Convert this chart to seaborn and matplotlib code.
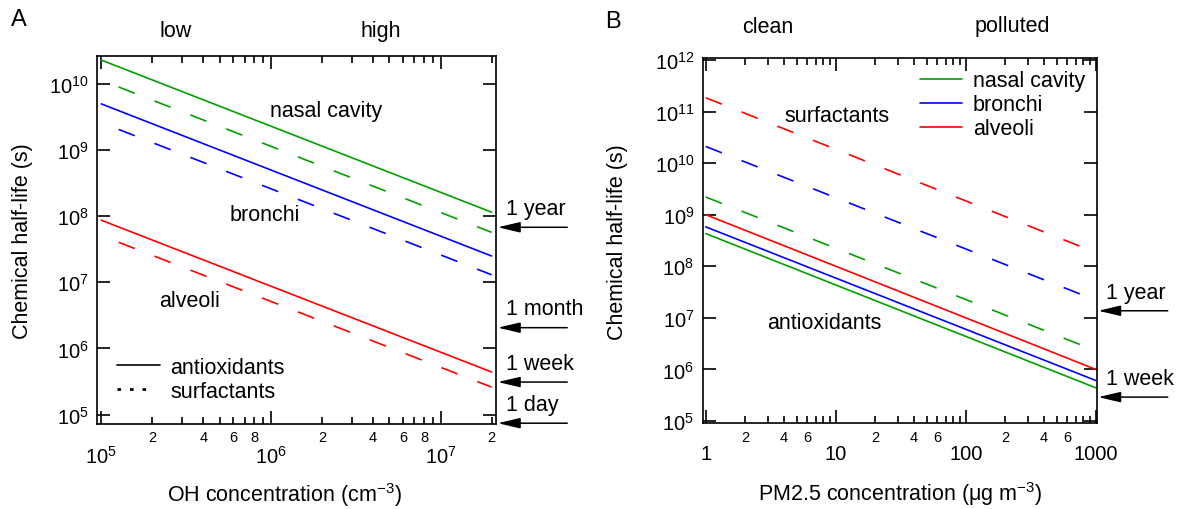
import numpy as np
import pandas as pd
import matplotlib
matplotlib.use("Agg")
import matplotlib.pyplot as plt
import matplotlib.ticker as mticker
import matplotlib.transforms as mtransforms
from matplotlib.lines import Line2D
import seaborn as sns

# --- data ---
regions = ["nasal cavity", "bronchi", "alveoli"]
chems = ["antioxidants", "surfactants"]

# panel A: half-life vs OH concentration (cm-3)
oh_conc = [1e5, 2e7]
oh_nasal_antiox = [2.3e10, 1.15e8]
oh_bronchi_antiox = [5.0e9, 2.5e7]
oh_alveoli_antiox = [8.7e7, 4.4e5]
oh_nasal_surf = [1.14e10, 5.7e7]
oh_bronchi_surf = [2.6e9, 1.3e7]
oh_alveoli_surf = [5.1e7, 2.6e5]
oh_marks = ["1 year", "1 month", "1 week", "1 day"]
oh_mark_vals = [6.8e7, 2.06e6, 3.1e5, 7.4e4]

# panel B: half-life vs PM2.5 concentration (ug m-3)
pm_conc = [1, 1000]
pm_nasal_antiox = [4.3e8, 4.4e5]
pm_bronchi_antiox = [5.8e8, 6.1e5]
pm_alveoli_antiox = [1.0e9, 1.0e6]
pm_nasal_surf = [2.2e9, 2.3e6]
pm_bronchi_surf = [2.1e10, 2.2e7]
pm_alveoli_surf = [1.85e11, 1.85e8]
pm_marks = ["1 year", "1 week"]
pm_mark_vals = [1.37e7, 2.9e5]


def to_long(x, antiox, surf):
    rows = []
    for reg, a, s in zip(regions, antiox, surf):
        for xi, ai, si in zip(x, a, s):
            rows.append((xi, ai, reg, "antioxidants"))
            rows.append((xi, si, reg, "surfactants"))
    return pd.DataFrame(rows, columns=["conc", "half_life", "region", "chem"])


df_oh = to_long(oh_conc, [oh_nasal_antiox, oh_bronchi_antiox, oh_alveoli_antiox],
                [oh_nasal_surf, oh_bronchi_surf, oh_alveoli_surf])
df_pm = to_long(pm_conc, [pm_nasal_antiox, pm_bronchi_antiox, pm_alveoli_antiox],
                [pm_nasal_surf, pm_bronchi_surf, pm_alveoli_surf])

# --- style ---
sns.set_style("ticks")
plt.rcParams["font.family"] = ["Liberation Sans", "DejaVu Sans"]
plt.rcParams["mathtext.fontset"] = "custom"
plt.rcParams["mathtext.rm"] = "Liberation Sans"
plt.rcParams["mathtext.it"] = "Liberation Sans:italic"
plt.rcParams["mathtext.bf"] = "Liberation Sans:bold"
plt.rcParams["lines.scale_dashes"] = False
plt.rcParams["axes.linewidth"] = 1.2
for key in ["text.color", "axes.labelcolor", "axes.edgecolor", "xtick.color", "ytick.color"]:
    plt.rcParams[key] = "black"

colors = {"nasal cavity": "#00a000", "bronchi": "#0000ff", "alveoli": "#ff0000"}
FS = 15.5
DASH = (12.5, 15.2)

fig = plt.figure(figsize=(11.86, 5.10), dpi=100)
axA = fig.add_axes([0.0822, 0.1667, 0.3362, 0.7222])
axB = fig.add_axes([0.5930, 0.1680, 0.3317, 0.7163])


def minor_fmt(keep):
    def f(v, pos):
        m = int(round(v / 10 ** np.floor(np.log10(v) + 1e-9)))
        return str(m) if m in keep else ""
    return mticker.FuncFormatter(f)


def log_ticks(lo, hi, subs):
    # tick positions inside the view only
    out = []
    for e in range(int(np.floor(np.log10(lo))), int(np.ceil(np.log10(hi))) + 1):
        for m in subs:
            v = m * 10.0 ** e
            if lo <= v <= hi:
                out.append(v)
    return out


def draw(ax, df, dash_offset, xlim, ylim):
    for reg in regions:
        for chem in chems:
            sub = df[(df.region == reg) & (df.chem == chem)]
            ls = "-" if chem == "antioxidants" else (dash_offset, DASH)
            sns.lineplot(data=sub, x="conc", y="half_life", color=colors[reg],
                         linestyle=ls, lw=1.2, estimator=None, ax=ax)
    ax.set_xscale("log")
    ax.set_yscale("log")
    ax.set_xlim(*xlim)
    ax.set_ylim(*ylim)
    ax.tick_params(which="both", direction="in", top=True, right=True, width=1.2)
    ax.tick_params(which="major", length=9.6)
    ax.tick_params(which="minor", length=4.8)
    ax.tick_params(axis="x", which="major", labelsize=14.5, pad=15)
    ax.tick_params(axis="x", which="minor", labelsize=10.5, pad=4.5)
    ax.tick_params(axis="y", which="major", labelsize=14.5, pad=6.5)
    ax.yaxis.set_major_locator(mticker.FixedLocator(log_ticks(*ylim, [1])))
    ax.yaxis.set_major_formatter(mticker.LogFormatterSciNotation())
    ax.yaxis.set_minor_locator(mticker.NullLocator())
    ax.xaxis.set_major_locator(mticker.FixedLocator(log_ticks(*xlim, [1])))
    ax.xaxis.set_minor_locator(mticker.FixedLocator(log_ticks(*xlim, range(2, 10))))
    ax.set_ylabel("Chemical half-life (s)", fontsize=FS)
    ax.yaxis.label.set_va("center")
    ax.xaxis.label.set_va("center")


def marks(ax, labels, vals):
    trans = mtransforms.blended_transform_factory(ax.transAxes, ax.transData)
    for lab, v in zip(labels, vals):
        ax.annotate("", xy=(1.004, v), xycoords=trans, xytext=(50, 0),
                    textcoords="offset points", annotation_clip=False,
                    arrowprops=dict(arrowstyle="-|>,head_length=0.68,head_width=0.16",
                                    mutation_scale=20, lw=1.1, color="black",
                                    shrinkA=0, shrinkB=0))
        ax.annotate(lab, xy=(1.0, v), xycoords=trans, xytext=(7, 13.5),
                    textcoords="offset points", ha="left", va="center",
                    fontsize=FS, annotation_clip=False)


# --- panel A ---
draw(axA, df_oh, 14.3, (9.5e4, 2.13e7), (7.2e4, 2.68e10))
axA.xaxis.set_major_formatter(mticker.LogFormatterSciNotation())
axA.xaxis.set_minor_formatter(minor_fmt({2, 4, 6, 8}))
axA.set_xlabel("OH concentration (cm$^{-3}$)", fontsize=FS)
axA.xaxis.set_label_coords(0.469, -0.19)
axA.yaxis.set_label_coords(-0.189, 0.5)
marks(axA, oh_marks, oh_mark_vals)
axA.text(0.573, 0.850, "nasal cavity", transform=axA.transAxes, ha="center", va="center", fontsize=FS)
axA.text(0.420, 0.5675, "bronchi", transform=axA.transAxes, ha="center", va="center", fontsize=FS)
axA.text(0.2305, 0.335, "alveoli", transform=axA.transAxes, ha="center", va="center", fontsize=FS)
axA.text(0.197, 1.067, "low", transform=axA.transAxes, ha="center", va="center", fontsize=FS)
axA.text(0.711, 1.067, "high", transform=axA.transAxes, ha="center", va="center", fontsize=FS)
handles_a = [Line2D([], [], color="black", lw=1.2),
             Line2D([], [], color="black", lw=2.0, linestyle=(0, (2.6, 6.4, 2.6, 6.4, 2.6, 20)))]
axA.legend(handles_a, chems, loc="center left", bbox_to_anchor=(0.050, 0.121),
           frameon=False, fontsize=FS, borderpad=0, borderaxespad=0,
           handlelength=2.0, handletextpad=0.45, labelspacing=0.15)

# --- panel B ---
draw(axB, df_pm, 0, (0.958, 1018), (9.0e4, 1.09e12))
axB.xaxis.set_major_formatter(mticker.FuncFormatter(lambda v, p: f"{v:g}"))
axB.xaxis.set_minor_formatter(minor_fmt({2, 4, 6}))
axB.set_xlabel("PM2.5 concentration (μg m$^{-3}$)", fontsize=FS)
axB.xaxis.set_label_coords(0.5, -0.19)
axB.yaxis.set_label_coords(-0.219, 0.5)
marks(axB, pm_marks, pm_mark_vals)
axB.text(0.340, 0.842, "surfactants", transform=axB.transAxes, ha="center", va="center", fontsize=FS)
axB.text(0.307, 0.2765, "antioxidants", transform=axB.transAxes, ha="center", va="center", fontsize=FS)
axB.text(0.1645, 1.085, "clean", transform=axB.transAxes, ha="center", va="center", fontsize=FS)
axB.text(0.7865, 1.088, "polluted", transform=axB.transAxes, ha="center", va="center", fontsize=FS)
handles_b = [Line2D([], [], color=colors[r], lw=1.2) for r in regions]
axB.legend(handles_b, regions, loc="center left", bbox_to_anchor=(0.551, 0.872),
           frameon=False, fontsize=FS, borderpad=0, borderaxespad=0,
           handlelength=1.95, handletextpad=0.5, labelspacing=0.15)

fig.text(0.016, 0.961, "A", fontsize=17, ha="center", va="center")
fig.text(0.517, 0.957, "B", fontsize=17, ha="center", va="center")

fig.savefig("out.png", dpi=100)
